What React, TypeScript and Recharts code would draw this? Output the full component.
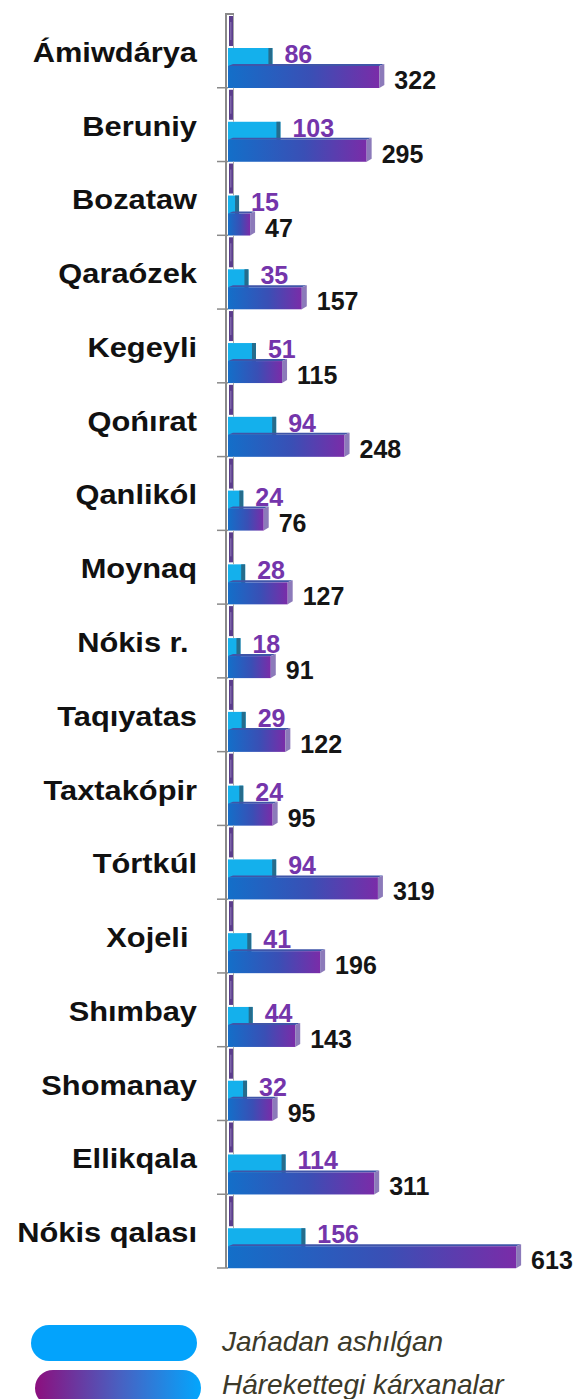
import { BarChart, Bar, XAxis, YAxis, LabelList, Legend } from "recharts";

const DISTRICTS = [
  "Ámiwdárya", "Beruniy", "Bozataw", "Qaraózek", "Kegeyli", "Qońırat", "Qanlikól", "Moynaq",
  "Nókis r. ", "Taqıyatas", "Taxtakópir", "Tórtkúl", "Xojeli ", "Shımbay", "Shomanay", "Ellikqala", "Nókis qalası",
];
const NEW_OPENED = [86, 103, 15, 35, 51, 94, 24, 28, 18, 29, 24, 94, 41, 44, 32, 114, 156];
const ACTIVE = [322, 295, 47, 157, 115, 248, 76, 127, 91, 122, 95, 319, 196, 143, 95, 311, 613];
const SERIES_NAMES = ["Jańadan ashılǵan", "Hárekettegi kárxanalar"];

const data = DISTRICTS.map((name, i) => ({ name, fresh: NEW_OPENED[i], active: ACTIVE[i] }));

const W = 579;
const H = 1399;
const TOP = 14;
const PLOT_BOTTOM = 1268;
const BAND = (PLOT_BOTTOM - TOP) / DISTRICTS.length;
const SHIFT = 17; // bars sit low in each band
const FONT = "'Liberation Sans', Arial, sans-serif";

function FreshBar(props: any) {
  const { x, y, width, height } = props;
  const top = y + SHIFT;
  return (
    <g>
      <rect x={x} y={top} width={width + 4} height={height} fill="#14b0ec" />
      <rect x={x + width} y={top} width={4} height={height} fill="#256c8c" />
    </g>
  );
}

function ActiveBar(props: any) {
  const { x, y, width, height } = props;
  const top = y + SHIFT;
  const d = 5;
  return (
    <g>
      <polygon
        points={`${x},${top} ${x + width},${top} ${x + width + d},${top - 2} ${x + d},${top - 2}`}
        fill="#3f55a8"
      />
      <rect x={x} y={top} width={width} height={height} fill="url(#activeGrad)" />
      <polygon
        points={`${x + width},${top} ${x + width + d},${top - 2} ${x + width + d},${top + height - 3} ${x + width},${top + height}`}
        fill="#8c7aba"
      />
    </g>
  );
}

function FreshLabel(props: any) {
  const { x, y, width, value } = props;
  return (
    <text x={x + width + 16} y={y + SHIFT + 15} fill="#7435ab" fontSize={25} fontWeight="bold" fontFamily={FONT}>
      {value}
    </text>
  );
}

function ActiveLabel(props: any) {
  const { x, y, width, height, value } = props;
  return (
    <text x={x + width + 15} y={y + SHIFT + height + 1} fill="#151515" fontSize={25} fontWeight="bold" fontFamily={FONT}>
      {value}
    </text>
  );
}

function DistrictTick(props: any) {
  const { x, y, payload } = props;
  const bandTop = y - BAND / 2;
  const bandBottom = y + BAND / 2;
  return (
    <g>
      {/* thin 3d wall next to the axis */}
      <line x1={x - 2} y1={bandTop} x2={x - 2} y2={bandBottom} stroke="#8a8a8a" strokeWidth={2} />
      <line x1={x + 5.5} y1={bandTop} x2={x + 5.5} y2={bandTop + 34} stroke="#a8a8a8" strokeWidth={1} />
      <rect x={x + 1} y={bandTop + 2} width={4} height={30} fill="#5b3d8c" />
      <rect x={x + 2} y={bandTop + 8} width={1.5} height={18} fill="#7d64a8" />
      {payload.value === DISTRICTS[0] && (
        <line x1={x - 3} y1={bandTop} x2={x + 6} y2={bandTop} stroke="#8a8a8a" strokeWidth={2} />
      )}
      <line x1={x - 11} y1={bandBottom} x2={x} y2={bandBottom} stroke="#8a8a8a" strokeWidth={1.5} />
      <text
        transform={`translate(${x - 31},${y + 11}) scale(1.1,1)`}
        textAnchor="end"
        fontSize={28}
        fontWeight="bold"
        fontFamily={FONT}
        fill="#111"
        style={{ whiteSpace: "pre" }}
      >
        {payload.value}
      </text>
    </g>
  );
}

function LegendBox() {
  const textStyle: React.CSSProperties = {
    position: "absolute",
    left: 222,
    fontFamily: FONT,
    fontStyle: "italic",
    fontSize: 28,
    color: "#3c3a2a",
    whiteSpace: "nowrap",
    lineHeight: "36px",
  };
  return (
    <div style={{ position: "relative", width: W, height: H - PLOT_BOTTOM }}>
      <div
        style={{ position: "absolute", left: 31, top: 1325 - PLOT_BOTTOM, width: 166, height: 36, borderRadius: 18, background: "#03a3fc" }}
      />
      <div style={{ ...textStyle, top: 1324 - PLOT_BOTTOM }}>{SERIES_NAMES[0]}</div>
      <div
        style={{
          position: "absolute",
          left: 35,
          top: 1370 - PLOT_BOTTOM,
          width: 166,
          height: 36,
          borderRadius: 18,
          background: "linear-gradient(to right, #8c0f7e, #4a5fc0, #03a6fd)",
        }}
      />
      <div style={{ ...textStyle, top: 1367 - PLOT_BOTTOM }}>{SERIES_NAMES[1]}</div>
    </div>
  );
}

export default function App() {
  return (
    <div style={{ width: W, height: H, overflow: "hidden" }}>
      <style>{"body{margin:0}"}</style>
      <BarChart
        width={W}
        height={H}
        data={data}
        layout="vertical"
        margin={{ top: TOP, right: 22, bottom: 0, left: 0 }}
        barGap={-6}
      >
        <defs>
          <linearGradient id="activeGrad" x1="0" y1="0" x2="1" y2="0">
            <stop offset="0%" stopColor="#136fc9" />
            <stop offset="55%" stopColor="#3a4fb5" />
            <stop offset="100%" stopColor="#7a2ca8" />
          </linearGradient>
        </defs>
        <XAxis type="number" domain={[0, 700]} hide />
        <YAxis
          type="category"
          dataKey="name"
          width={228}
          axisLine={false}
          tickLine={false}
          tickSize={0}
          tickMargin={0}
          interval={0}
          tick={<DistrictTick />}
        />
        <Legend verticalAlign="bottom" align="left" content={() => <LegendBox />} wrapperStyle={{ height: H - PLOT_BOTTOM, left: 0, width: W }} />
        <Bar dataKey="fresh" name={SERIES_NAMES[0]} barSize={24} shape={<FreshBar />} isAnimationActive={false}>
          <LabelList dataKey="fresh" content={<FreshLabel />} />
        </Bar>
        <Bar dataKey="active" name={SERIES_NAMES[1]} barSize={22} shape={<ActiveBar />} isAnimationActive={false}>
          <LabelList dataKey="active" content={<ActiveLabel />} />
        </Bar>
      </BarChart>
    </div>
  );
}
